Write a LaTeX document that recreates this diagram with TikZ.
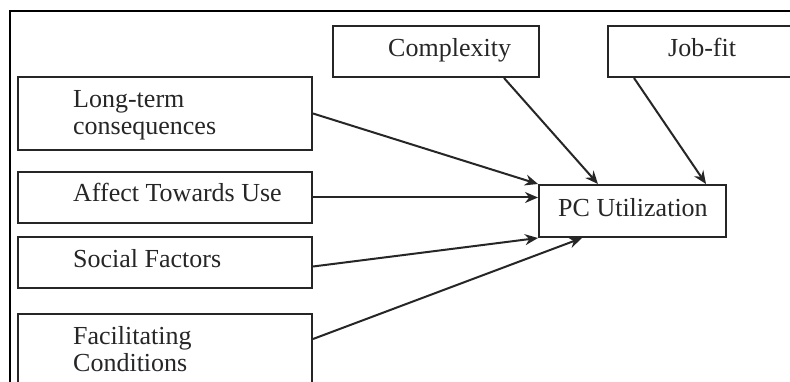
\documentclass[tikz,border=0pt]{standalone}
\usepackage{fontspec}
\setmainfont{Liberation Serif}
\usetikzlibrary{arrows.meta,calc}
\definecolor{ink}{HTML}{262626}
\begin{document}
\begin{tikzpicture}[x=1pt,y=-1pt,
  box/.style={draw=ink, line width=2pt, rectangle, inner sep=0pt},
  lbl/.style={anchor=base west, inner sep=0pt, text=ink, align=left,
              font=\fontsize{26}{27}\selectfont},
  conn/.style={draw=ink, line width=2pt, -{Stealth[length=13pt,width=11pt]}}]
\useasboundingbox (0,0) rectangle (790,382);
\clip (0,0) rectangle (790,382);
\fill[white] (0,0) rectangle (790,382);
% outer frame, running off the right and bottom edges
\draw[line width=2.4pt] (800,11) -- (10,11) -- (10,400);

% factor boxes
\node[box, minimum width=294pt, minimum height=73pt] (lt) at (165,113.5) {};
\node[box, minimum width=294pt, minimum height=51pt] (at) at (165,197.5) {};
\node[box, minimum width=294pt, minimum height=51pt] (sf) at (165,262.5) {};
\node[box, minimum width=294pt, minimum height=86pt] (fc) at (165,357) {};
\node[box, minimum width=206pt, minimum height=51pt] (cx) at (436,51.5) {};
\node[box, minimum width=187pt, minimum height=51pt] (jf) at (701.5,51.5) {};
\node[box, minimum width=187pt, minimum height=52pt] (pc) at (632.5,211) {};

% labels (base west sits on the last line of a two-line label)
\node[lbl] (ltt) at (73,135) {Long-term\\consequences};
\node[lbl] (att) at (73,202) {Affect Towards Use};
\node[lbl] (sft) at (73,267) {Social Factors};
\node[lbl] (fct) at (73,371) {Facilitating\\Conditions};
\node[lbl] (cxt) at (388,57) {Complexity};
\node[lbl] (jft) at (668,57) {Job-fit};
\node[lbl] (pct) at (558,217) {PC Utilization};

% influences on PC utilization
\draw[conn] (lt.east) -- (pc.north west);
\draw[conn] (at.east) -- (at.east -| pc.west);
\draw[conn] ($(sf.east)+(0,4)$) -- (pc.south west);
\draw[conn] ($(fc.north east)+(0,26)$) -- ($(pc.south west)+(44,0)$);
\draw[conn] ($(cx.south west)+(172,0)$) -- ($(pc.north west)+(60,0)$);
\draw[conn] ($(jf.south west)+(27,0)$) -- ($(pc.north west)+(168,0)$);
\end{tikzpicture}
\end{document}
